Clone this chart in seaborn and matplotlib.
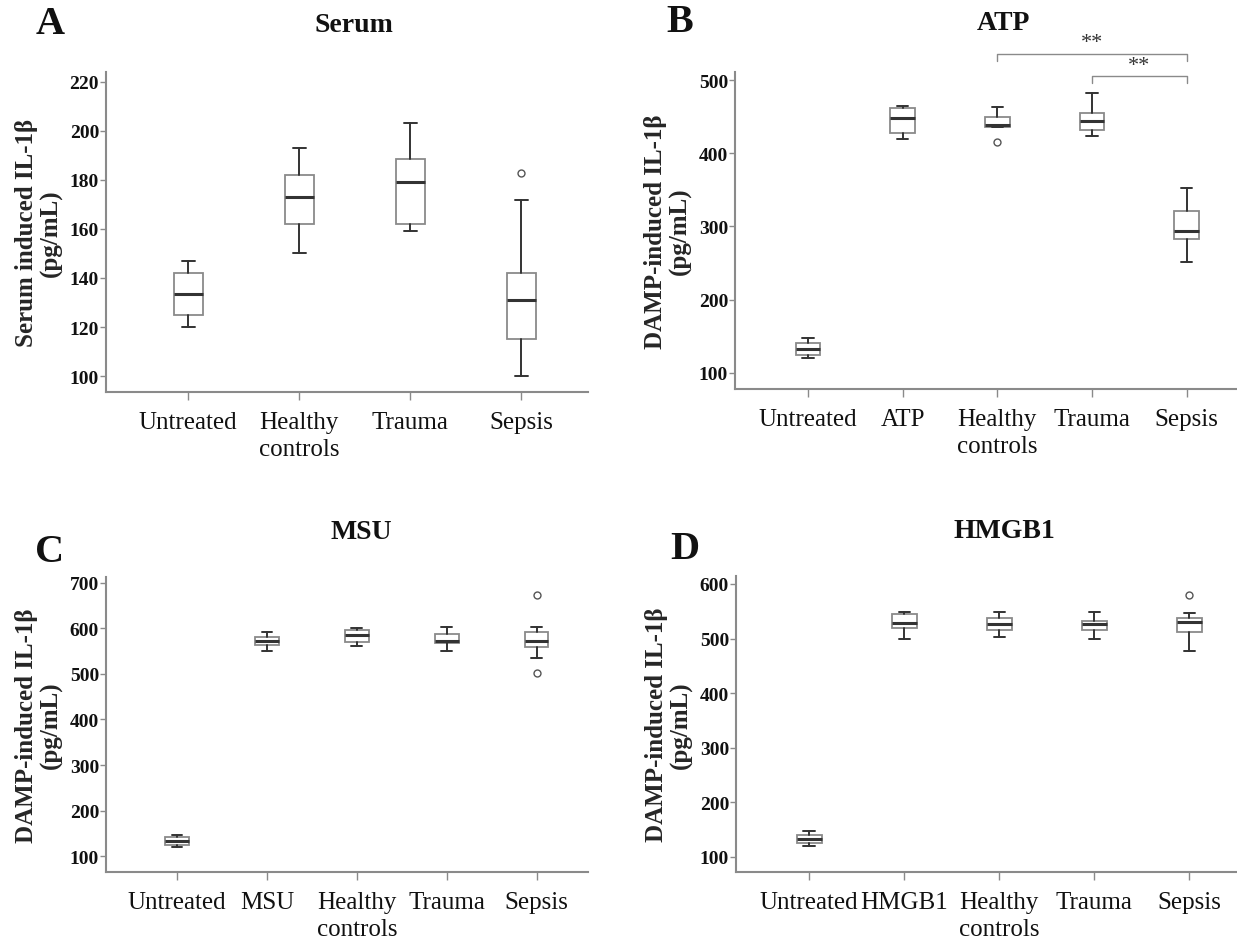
import matplotlib

matplotlib.use("Agg")
import matplotlib.pyplot as plt
import seaborn as sns

# ---- data (five-number summaries) ----
cats_a = ["Untreated", "Healthy\ncontrols", "Trauma", "Sepsis"]
a_low = [120, 150, 159, 100]
a_q1 = [125, 162, 162, 115]
a_med = [133.5, 173, 179, 131]
a_q3 = [142, 182, 188.5, 142]
a_high = [147, 193, 203, 172]
a_fliers = [[], [], [], [183]]

cats_b = ["Untreated", "ATP", "Healthy\ncontrols", "Trauma", "Sepsis"]
b_low = [120, 420, 435.5, 423, 251]
b_q1 = [125, 427, 435.5, 432, 283]
b_med = [133, 448, 438.5, 443.5, 294.5]
b_q3 = [141.5, 462, 449, 454.5, 320.5]
b_high = [147, 464, 463, 482, 352]
b_fliers = [[], [], [415], [], []]

cats_c = ["Untreated", "MSU", "Healthy\ncontrols", "Trauma", "Sepsis"]
c_low = [120, 550, 562, 550, 534]
c_q1 = [124, 564, 571, 567, 558.5]
c_med = [133, 573, 585.5, 573, 573]
c_q3 = [141, 582, 597, 587, 591.5]
c_high = [147, 593, 602, 602.5, 602.5]
c_fliers = [[], [], [], [], [674, 503]]

cats_d = ["Untreated", "HMGB1", "Healthy\ncontrols", "Trauma", "Sepsis"]
d_low = [120, 499, 503, 499, 477]
d_q1 = [125, 520, 516.5, 516.5, 511.5]
d_med = [133.5, 529, 527.5, 526.5, 530]
d_q3 = [141, 544.5, 537, 533, 537.5]
d_high = [147, 549, 548.5, 549, 546]
d_fliers = [[], [], [], [], [579]]

# significance brackets in panel B: (left group, right group, label)
b_sig = [(2, 4, "**"), (3, 4, "**")]
b_sig_y = [536, 505.5]

sns.set_theme(style="ticks")
plt.rcParams["font.family"] = ["Liberation Serif", "DejaVu Serif"]

W, H = 1237, 945
fig = plt.figure(figsize=(W / 100, H / 100), dpi=100)

GRAY = "#8a8a8a"
DARK = "#333333"


def px_axes(left, top, right, bottom):
    return fig.add_axes([left / W, 1 - bottom / H, (right - left) / W, (bottom - top) / H])


def draw_panel(ax, cats, low, q1, med, q3, high, fliers, ylim, yticks, xlim, ylabel):
    stats = []
    for i in range(len(cats)):
        stats.append(dict(whislo=low[i], q1=q1[i], med=med[i], q3=q3[i],
                          whishi=high[i], fliers=fliers[i]))
    ax.bxp(
        stats,
        positions=range(len(cats)),
        widths=0.26,
        capwidths=0.12,
        patch_artist=True,
        boxprops=dict(facecolor="white", edgecolor=GRAY, linewidth=1.3),
        medianprops=dict(color=DARK, linewidth=2.2),
        whiskerprops=dict(color=DARK, linewidth=1.4),
        capprops=dict(color=DARK, linewidth=1.4),
        flierprops=dict(marker="o", markersize=5, markerfacecolor="white",
                        markeredgecolor="#555555", markeredgewidth=1),
    )
    ax.set_xlim(*xlim)
    ax.set_ylim(*ylim)
    ax.set_yticks(yticks)
    ax.set_xticks(range(len(cats)))
    ax.set_xticklabels(cats, fontsize=18, linespacing=1.25, multialignment="center")
    for lab in ax.get_yticklabels():
        lab.set_fontweight("bold")
        lab.set_fontsize(14)
    ax.tick_params(axis="y", length=4, width=1, color=GRAY, pad=1, labelcolor="#111111")
    ax.tick_params(axis="x", length=6, width=1, color=GRAY, pad=8, labelcolor="#111111")
    ax.set_ylabel(ylabel, fontsize=18, fontweight="bold", labelpad=5, linespacing=1.05)
    sns.despine(ax=ax)
    for side in ["left", "bottom"]:
        ax.spines[side].set_color(GRAY)
        ax.spines[side].set_linewidth(1.5)
    ax.set_facecolor("white")


ax_a = px_axes(106, 73, 588, 393)
draw_panel(ax_a, cats_a, a_low, a_q1, a_med, a_q3, a_high, a_fliers,
           (93.5, 224), range(100, 221, 20), (-0.74, 3.6),
           "Serum induced IL-1β\n(pg/mL)")

ax_b = px_axes(735, 73, 1237, 390)
draw_panel(ax_b, cats_b, b_low, b_q1, b_med, b_q3, b_high, b_fliers,
           (78, 511), range(100, 501, 100), (-0.77, 4.53),
           "DAMP-induced IL-1β\n(pg/mL)")

ax_c = px_axes(106, 578, 588, 873)
draw_panel(ax_c, cats_c, c_low, c_q1, c_med, c_q3, c_high, c_fliers,
           (65, 713), range(100, 701, 100), (-0.79, 4.57),
           "DAMP-induced IL-1β\n(pg/mL)")

ax_d = px_axes(736, 577, 1237, 873)
draw_panel(ax_d, cats_d, d_low, d_q1, d_med, d_q3, d_high, d_fliers,
           (72.5, 614.5), range(100, 601, 100), (-0.77, 4.5),
           "DAMP-induced IL-1β\n(pg/mL)")

# significance brackets on panel B
for (x0, x1, lab), y in zip(b_sig, b_sig_y):
    drop = 9.5
    ax_b.plot([x0, x0, x1, x1], [y - drop, y, y, y - drop], color=GRAY,
              linewidth=1, clip_on=False)
    ax_b.text((x0 + x1) / 2, y + 2, lab, ha="center", va="bottom",
              fontsize=16, color=DARK, clip_on=False)

# panel titles and letters
titles = [("Serum", 354, 25), ("ATP", 1003, 23), ("MSU", 361, 533), ("HMGB1", 1004, 532)]
for txt, x, y in titles:
    fig.text(x / W, 1 - y / H, txt, ha="center", va="center", fontsize=20,
             fontweight="bold", color="#111111")

letters = [("A", 50, 25), ("B", 680, 23), ("C", 50, 552), ("D", 685, 550)]
for txt, x, y in letters:
    fig.text(x / W, 1 - y / H, txt, ha="center", va="center", fontsize=29,
             fontweight="bold", color="#111111")

fig.savefig("out.png", dpi=100, facecolor="white")
plt.close(fig)
